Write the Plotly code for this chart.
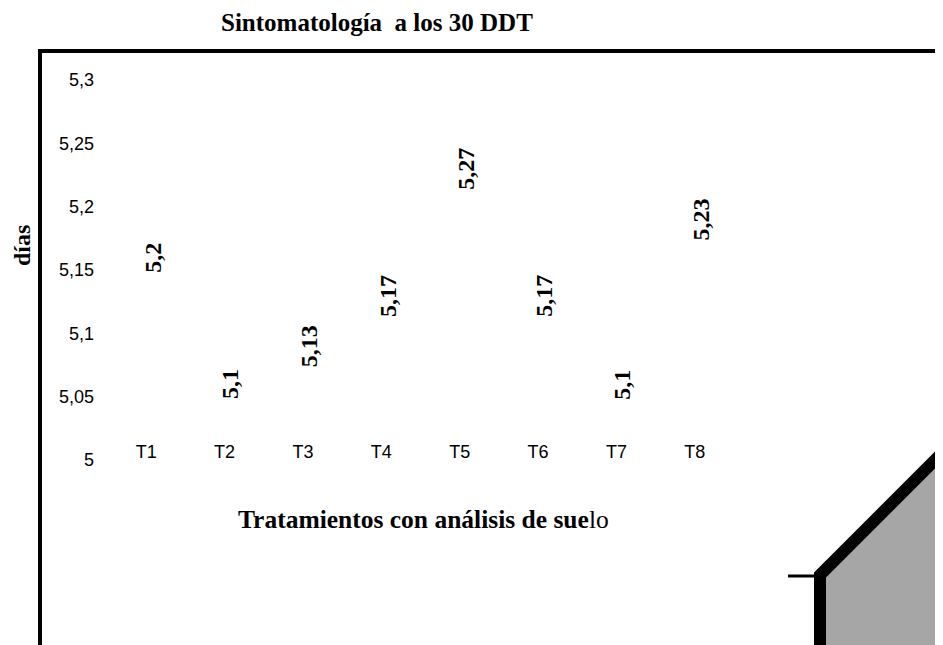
import plotly.graph_objects as go

# Datos del gráfico
tratamientos = ['T1', 'T2', 'T3', 'T4', 'T5', 'T6', 'T7', 'T8']
dias = [5.2, 5.1, 5.13, 5.17, 5.27, 5.17, 5.1, 5.23]
y_ticks = [5, 5.05, 5.1, 5.15, 5.2, 5.25, 5.3]

serif = 'Liberation Serif, Times New Roman, serif'
sans = 'Liberation Sans, Arial, sans-serif'

# la página html deja 8 px de margen en el body
OFF = 8
W, H = 943 - OFF, 645 - OFF
L, R, T, B = 99, 209, 72, 185
pw, ph = W - L - R, H - T - B


def px(x):
    # coordenada de pantalla -> paper
    return (x - OFF - L) / pw


def py(y):
    return (H - B - (y - OFF)) / ph


fig = go.Figure()
fig.add_trace(go.Bar(
    x=tratamientos,
    y=dias,
    marker=dict(color='rgba(0,0,0,0)', line=dict(width=0)),
    hovertemplate='%{x}: %{y:.2f}<extra></extra>',
    showlegend=False,
))

# etiquetas de valores, giradas
for t, v in zip(tratamientos, dias):
    fig.add_annotation(
        x=t, y=v, text='<b>' + f'{v:g}'.replace('.', ',') + '</b>',
        showarrow=False, textangle=-90, yanchor='middle', xanchor='center',
        yshift=-51, xshift=6,
        font=dict(family=serif, size=24, color='black'),
    )

# título y ejes
fig.add_annotation(x=px(377), y=py(OFF), xref='paper', yref='paper',
                   text='<b>Sintomatología  a los 30 DDT</b>', showarrow=False,
                   yanchor='top', borderpad=0,
                   font=dict(family=serif, size=25, color='black'))
fig.add_annotation(x=px(423), y=py(519), xref='paper', yref='paper',
                   text='<b>Tratamientos con análisis de sue</b>lo', showarrow=False,
                   yanchor='middle', font=dict(family=serif, size=25.5, color='black'))
fig.add_annotation(x=px(22), y=py(246), xref='paper', yref='paper',
                   text='<b>días</b>', showarrow=False, textangle=-90,
                   xanchor='center', yanchor='middle',
                   font=dict(family=serif, size=24, color='black'))

# marco exterior
fig.add_shape(type='path', xref='paper', yref='paper', layer='below',
              path=f'M {px(960)},{py(51)} L {px(40)},{py(51)} L {px(40)},{py(660)}',
              line=dict(color='black', width=4))
# figura gris de la esquina
fig.add_shape(type='path', xref='paper', yref='paper',
              path=(f'M {px(820)},{py(660)} L {px(820)},{py(575)} '
                    f'L {px(960)},{py(435)} L {px(960)},{py(660)} Z'),
              fillcolor='#a6a6a6', line=dict(color='black', width=12))
fig.add_shape(type='line', xref='paper', yref='paper',
              x0=px(788), x1=px(815), y0=py(576), y1=py(576),
              line=dict(color='black', width=3))

fig.update_layout(
    width=W, height=H,
    margin=dict(l=L, r=R, t=T, b=B),
    paper_bgcolor='white', plot_bgcolor='white',
    separators=',.',
    bargap=0.2,
    xaxis=dict(
        showgrid=False, showline=False, zeroline=False, ticks='',
        anchor='free', position=0.055,
        tickfont=dict(family=sans, size=18, color='black'),
    ),
    yaxis=dict(
        range=[5, 5.3], tickvals=y_ticks,
        showgrid=False, showline=False, zeroline=False, ticks='',
        ticklabelstandoff=12,
        tickfont=dict(family=sans, size=18, color='black'),
    ),
)

fig.write_html('out.html')
